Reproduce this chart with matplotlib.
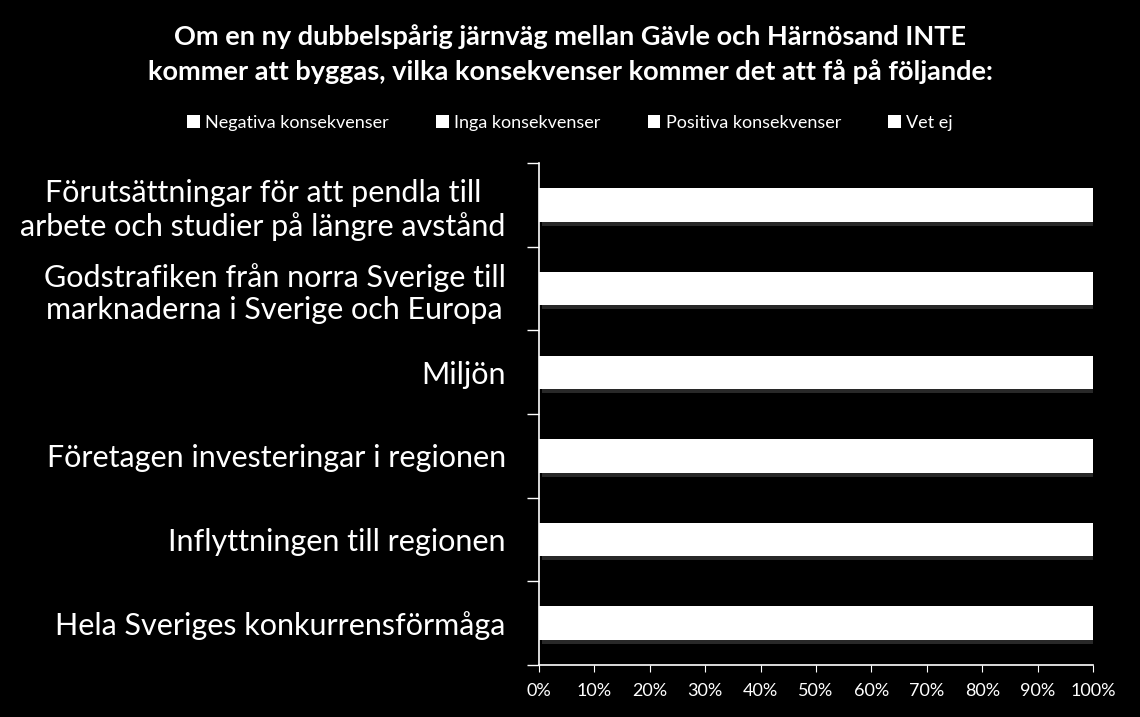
import numpy as np
import matplotlib.pyplot as plt
import matplotlib.patheffects as pe
from matplotlib.patches import Patch
from matplotlib.ticker import FixedLocator, PercentFormatter

categories = [
    "Förutsättningar för att pendla till\narbete och studier på längre avstånd",
    "Godstrafiken från norra Sverige till\nmarknaderna i Sverige och Europa",
    "Miljön",
    "Företagen investeringar i regionen",
    "Inflyttningen till regionen",
    "Hela Sveriges konkurrensförmåga",
]
series_names = ["Negativa konsekvenser", "Inga konsekvenser",
                "Positiva konsekvenser", "Vet ej"]
negativa = [59, 57, 56, 54, 52, 56]
inga = [6, 5, 7, 7, 9, 6]
positiva = [11, 8, 11, 8, 8, 8]
vet_ej = [24, 30, 26, 31, 31, 30]

title = ("Om en ny dubbelspårig järnväg mellan Gävle och Härnösand INTE\n"
         "kommer att byggas, vilka konsekvenser kommer det att få på följande:")

plt.rcParams['font.family'] = ['Lato', 'DejaVu Sans']

fig = plt.figure(figsize=(11.4, 7.17), dpi=100, facecolor='black')
ax = fig.add_axes([0.4728, 0.0725, 0.486, 0.700])
ax.set_facecolor('black')

y = np.arange(len(categories))
left = np.zeros(len(categories))
shadow = [pe.SimplePatchShadow(offset=(2, -3), shadow_rgbFace='#3a3a3a', alpha=0.7),
          pe.Normal()]
for name, vals in zip(series_names, [negativa, inga, positiva, vet_ej]):
    vals = np.array(vals, dtype=float)
    bars = ax.barh(y, vals, left=left, height=0.4, color='white',
                   edgecolor='none')
    for b in bars:
        b.set_path_effects(shadow)
    left += vals

ax.set_xlim(0, 100)
ax.set_ylim(len(categories) - 0.5, -0.5)
ax.set_xticks(np.arange(0, 101, 10))
ax.xaxis.set_major_formatter(PercentFormatter(decimals=0))
ax.set_yticks(y)
ax.set_yticklabels(categories, fontsize=22, color='white',
                   multialignment='center', linespacing=1.2)
ax.yaxis.set_minor_locator(FixedLocator(np.arange(-0.5, len(categories), 1)))
ax.tick_params(axis='y', which='major', length=0, pad=24)
ax.tick_params(axis='y', which='minor', length=9, color='white', width=1)
ax.tick_params(axis='x', which='major', length=5, color='white',
               labelcolor='white', labelsize=13, pad=8)

for s in ['top', 'right']:
    ax.spines[s].set_visible(False)
for s in ['left', 'bottom']:
    ax.spines[s].set_color('white')
    ax.spines[s].set_linewidth(1.2)

fig.text(0.5, 0.966, title, ha='center', va='top', color='white',
         fontsize=19.5, fontweight='bold', linespacing=1.5)

handles = [Patch(facecolor='white', edgecolor='none', label=n) for n in series_names]
fig.legend(handles=handles, loc='center', bbox_to_anchor=(0.5, 0.829), ncol=4,
           frameon=False, fontsize=13, labelcolor='white',
           handlelength=0.7, handleheight=0.7, handletextpad=0.3,
           columnspacing=2.6)

fig.savefig('out.png', dpi=100, facecolor='black')
